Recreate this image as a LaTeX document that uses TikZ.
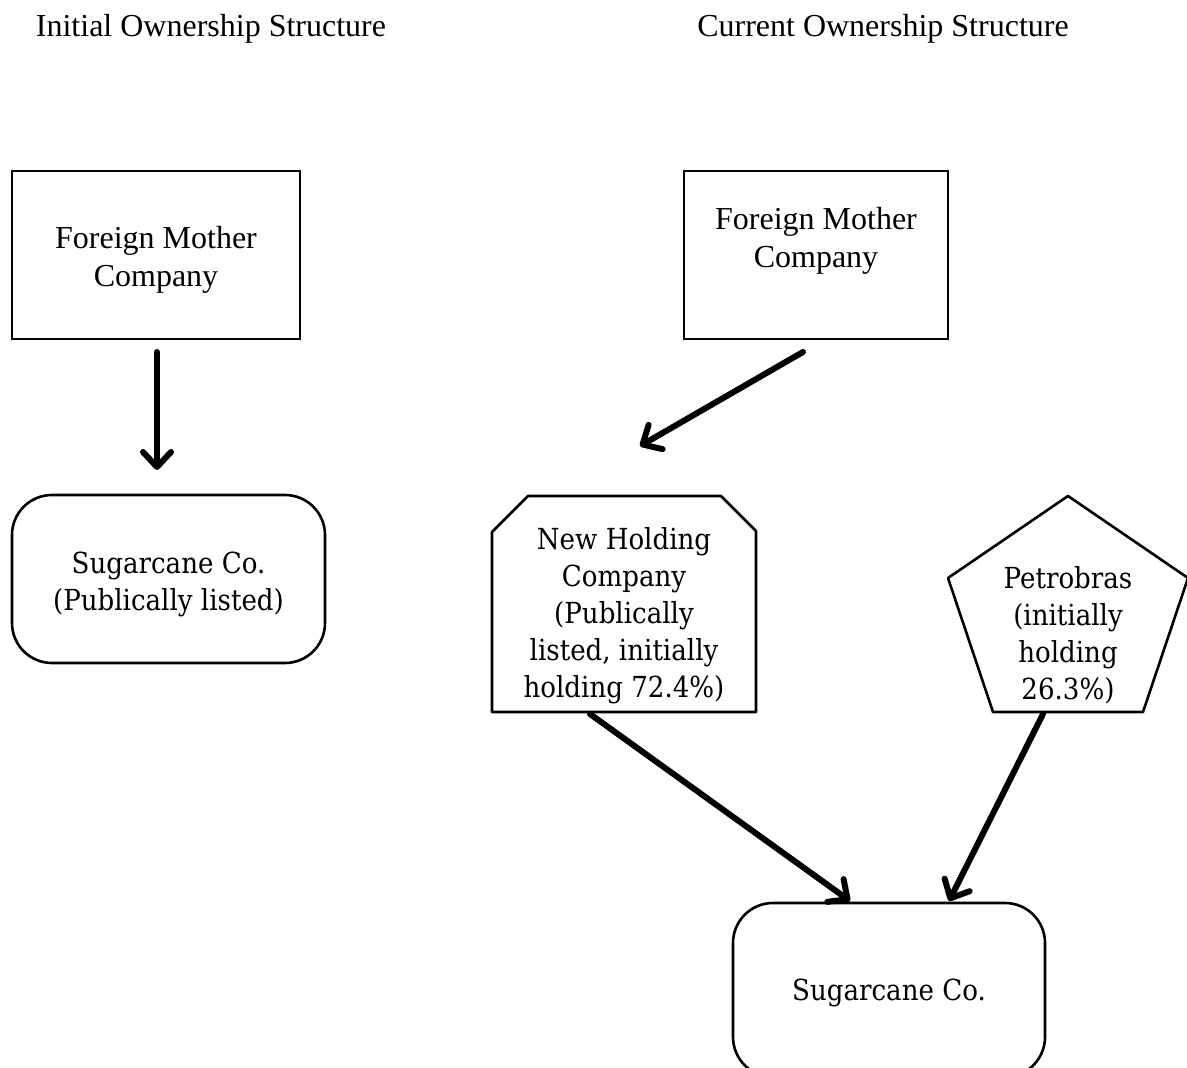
\documentclass[tikz,border=0pt]{standalone}
\usepackage{fontspec}
\setmainfont{Liberation Serif}
\newfontfamily\cambriafont[FakeStretch=0.9]{DejaVu Serif}
\usetikzlibrary{arrows.meta}

\begin{document}
\begin{tikzpicture}[x=0.5pt,y=-0.5pt,
    box/.style={draw,line width=1.3pt,inner sep=0pt},
    times/.style={font=\fontsize{16}{19}\selectfont,align=center},
    cambria/.style={font=\cambriafont\fontsize{14.5}{18.5}\selectfont,align=center},
    own/.style={line width=3pt,line cap=round,-{Straight Barb[length=7.5pt,width=14pt,round]}}]
    \useasboundingbox (0,0) rectangle (1187,1068);
    \clip (0,0) rectangle (1187,1068);

    \node[times] (titleA) at (211,29) {Initial Ownership Structure};
    \node[times] (titleB) at (883,29) {Current Ownership Structure};

    \node[box,minimum width=144pt,minimum height=84pt] (fmcA) at (156,255) {};
    \node[times] (fmcAtext) at (156,260) {Foreign Mother\\Company};
    \node[box,rounded corners=20pt,minimum width=156.5pt,minimum height=84pt] (scA) at (168.5,579) {};
    \node[cambria] (scAtext) at (168.5,584) {Sugarcane Co.\\(Publically listed)};
    \coordinate (fromA) at (157,352);
    \coordinate (toA) at (157,470);
    \draw[own] (fromA) -- (toA);

    \node[box,minimum width=132pt,minimum height=84pt] (fmcB) at (816,255) {};
    \node[times] (fmcBtext) at (816,241) {Foreign Mother\\Company};
    \node[cambria] (nh) at (624,616)
        {New Holding\\Company\\(Publically\\listed, initially\\holding 72.4\%)};
    \draw[line width=1.3pt,line join=round] (528,496) coordinate (nhA) -- (721,496) coordinate (nhB)
        -- (756,531) coordinate (nhC) -- (756,712) coordinate (nhD) -- (492,712) coordinate (nhE)
        -- (492,532) coordinate (nhF) -- cycle;
    \draw[line width=1.3pt,line join=round] (1068,496) coordinate (pA) -- (1188,578) coordinate (pB)
        -- (1143,712) coordinate (pC) -- (993,712) coordinate (pD) -- (948,578) coordinate (pE) -- cycle;
    \node[cambria] (petro) at (1068,635) {Petrobras\\(initially\\holding\\26.3\%)};
    \node[box,rounded corners=20pt,minimum width=156pt,minimum height=87pt] (scB) at (889,990) {};
    \node[cambria] (scBtext) at (889,993) {Sugarcane Co.};

    \coordinate (fromB) at (803,352);
    \coordinate (toB) at (640,446);
    \coordinate (fromNH) at (590,714);
    \coordinate (toNH) at (850,901);
    \coordinate (fromP) at (1043,714);
    \coordinate (toP) at (949,901);
    \draw[own] (fromB) -- (toB);
    \draw[own] (fromNH) -- (toNH);
    \draw[own] (fromP) -- (toP);
\end{tikzpicture}
\end{document}
